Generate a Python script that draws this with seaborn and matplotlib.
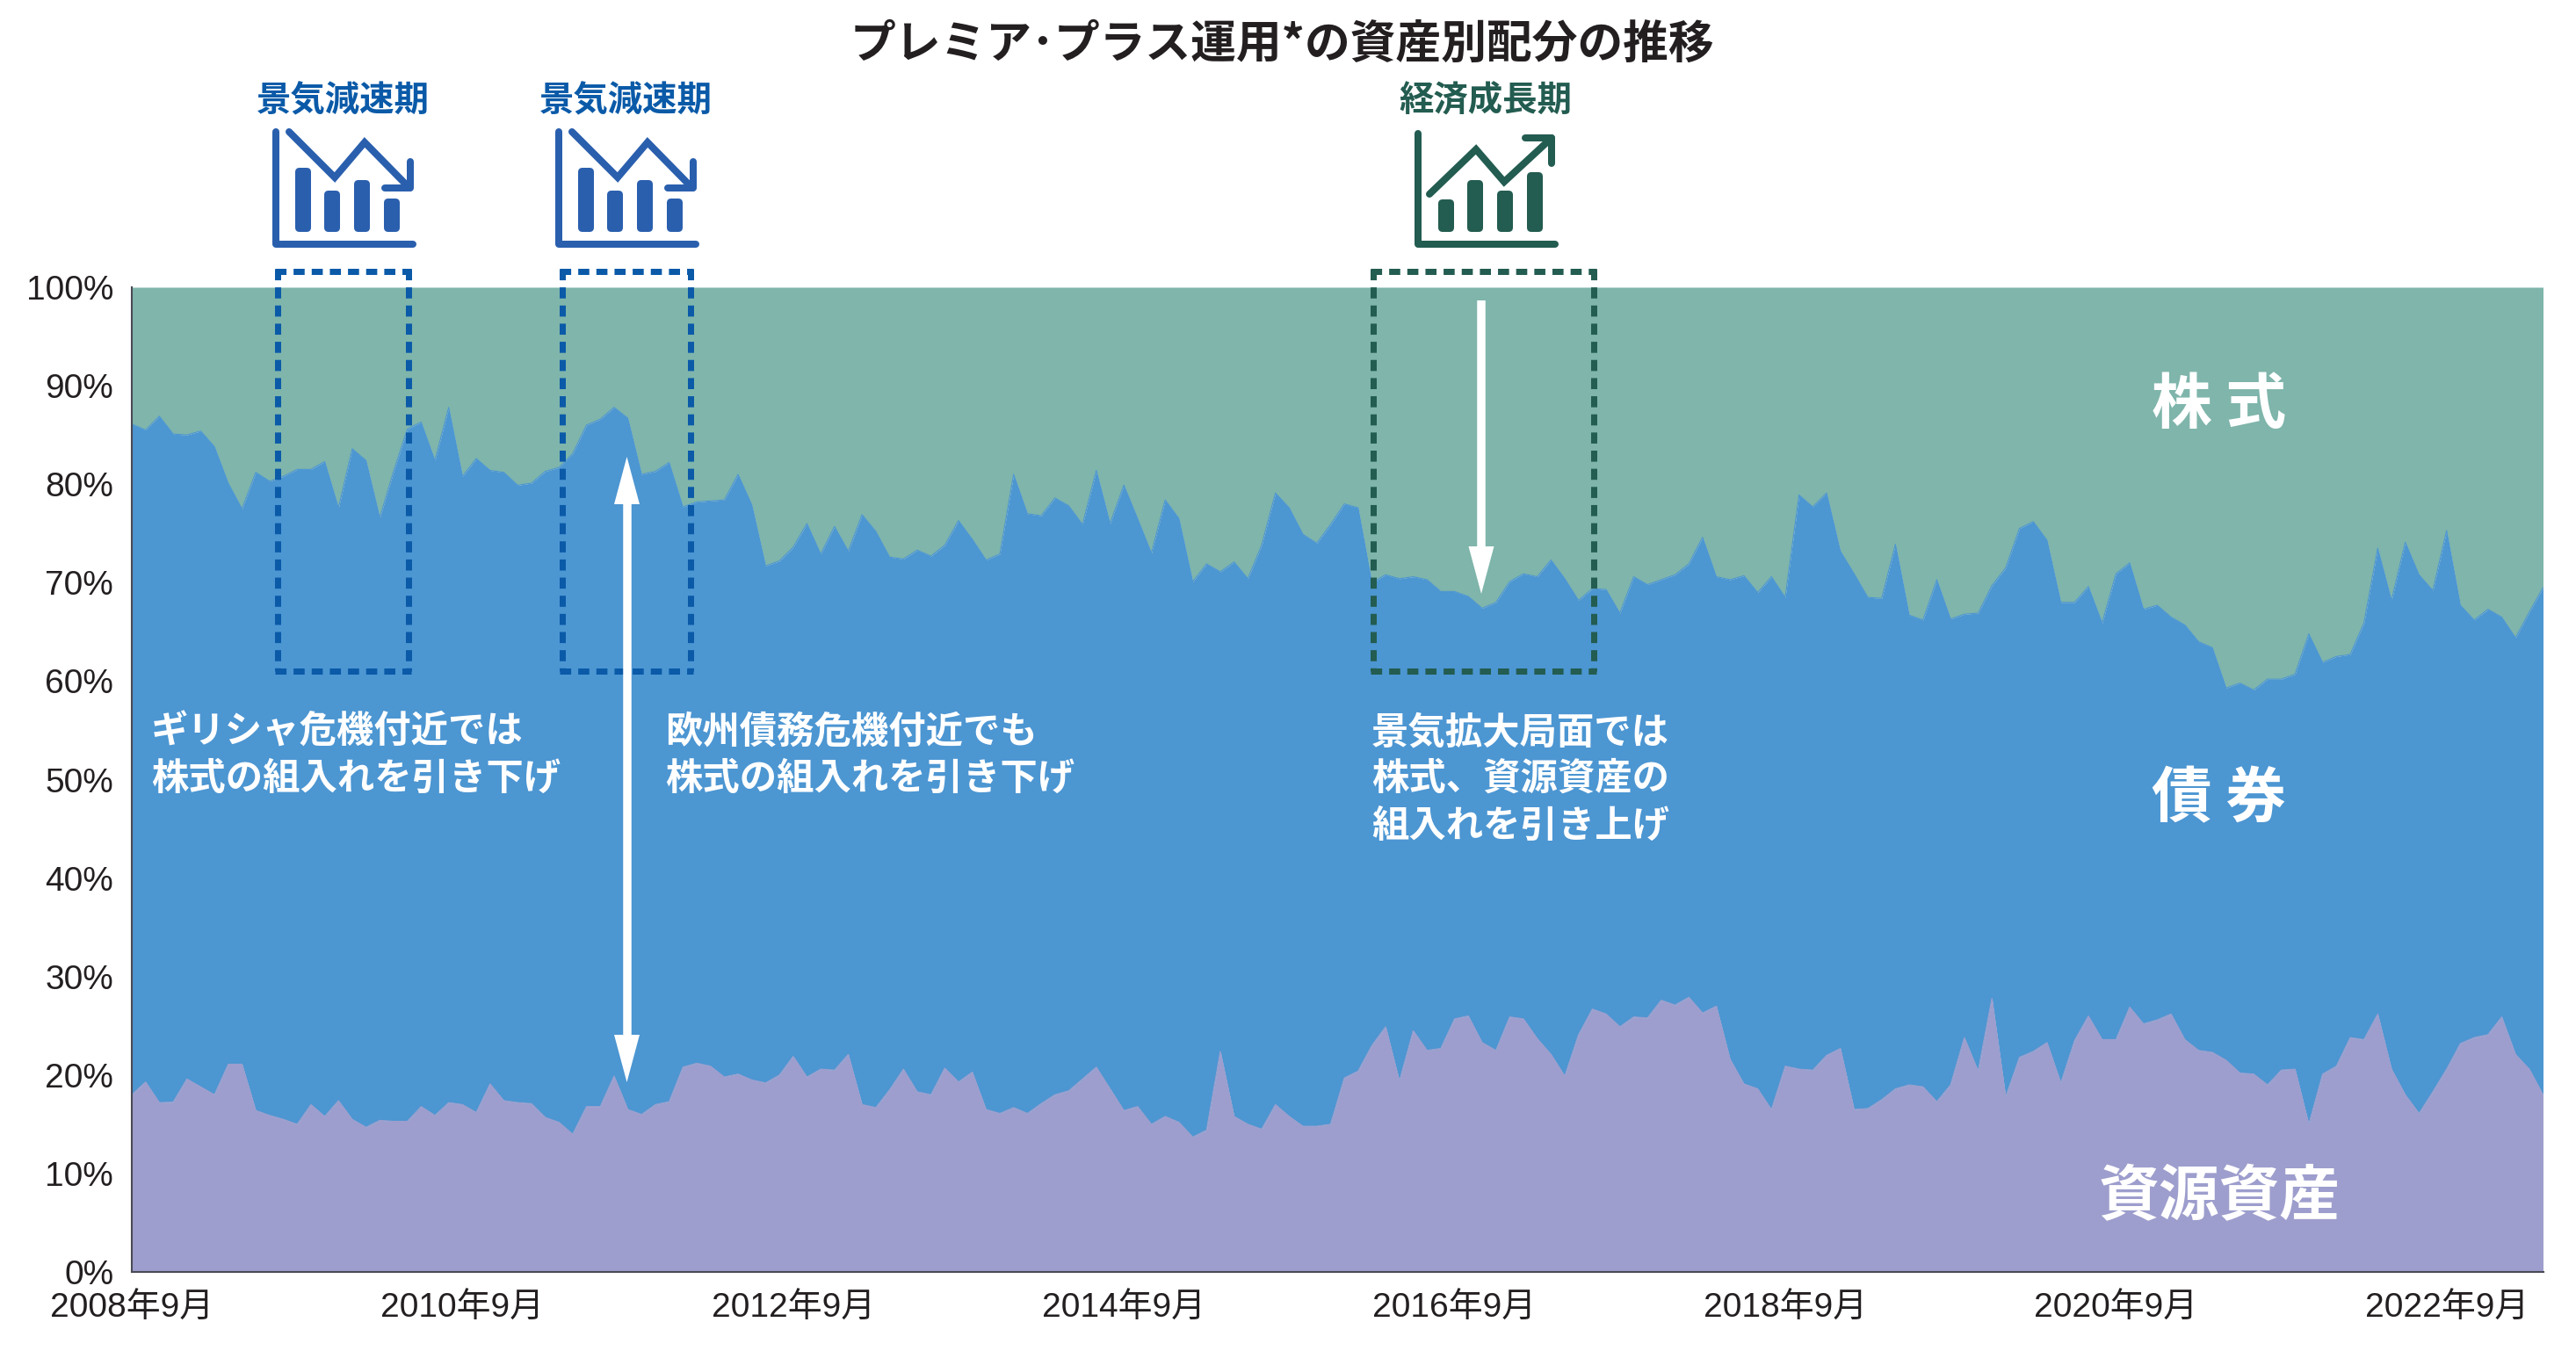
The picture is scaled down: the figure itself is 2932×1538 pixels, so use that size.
import numpy as np
import pandas as pd
import seaborn as sns
import matplotlib.pyplot as plt
from matplotlib.patches import FancyBboxPatch

# share of resources (%)
resource_pct = [
    18.0, 19.3, 17.2, 17.25, 19.6, 18.8, 18.0, 21.1, 21.1, 16.4, 15.9, 15.5,
    15.0, 17.0, 15.8, 17.4, 15.5, 14.7, 15.4, 15.3, 15.3, 16.8, 15.9, 17.2,
    17.0, 16.2, 19.1, 17.4, 17.2, 17.1, 15.7, 15.2, 14.0, 16.8, 16.8, 19.9,
    16.5, 16.0, 17.0, 17.3, 20.8, 21.2, 20.9, 19.8, 20.1, 19.5, 19.2, 20.0,
    21.9, 19.8, 20.6, 20.5, 22.1, 17.0, 16.7, 18.5, 20.6, 18.3, 18.0, 20.7,
    19.3, 20.3, 16.5, 16.1, 16.7, 16.1, 17.1, 18.0, 18.4, 19.6, 20.8, 18.6,
    16.4, 16.8, 15.0, 15.8, 15.2, 13.7, 14.4, 22.4, 15.8, 15.0, 14.5, 17.0,
    15.8, 14.8, 14.8, 15.0, 19.7, 20.4, 23.0, 24.9, 19.4, 24.5, 22.5, 22.7,
    25.7, 26.0, 23.3, 22.5, 25.9, 25.7, 23.7, 22.1, 19.9, 24.1, 26.7, 26.2,
    24.9, 25.9, 25.8, 27.6, 27.1, 27.9, 26.3, 27.0, 21.6, 19.1, 18.6, 16.5,
    20.9, 20.6, 20.5, 22.0, 22.7, 16.5, 16.6, 17.5, 18.6, 19.0, 18.8, 17.3,
    19.0, 23.8, 20.4, 27.8, 17.8, 21.8, 22.4, 23.3, 19.2, 23.5, 26.0, 23.6,
    23.6, 26.9, 25.2, 25.6, 26.2, 23.6, 22.5, 22.3, 21.5, 20.2, 20.1, 19.0,
    20.5, 20.6, 15.0, 20.1, 20.9, 23.8, 23.6, 26.2, 20.6, 18.0, 16.1, 18.3,
    20.6, 23.2, 23.8, 24.1, 25.9, 22.1, 20.6, 18.0,
]

# resources + bonds, i.e. the lower edge of the equity band (%)
resource_bond_pct = [
    86.1, 85.5, 86.9, 85.1, 85.0, 85.4, 83.8, 80.1, 77.5, 81.2, 80.3, 80.8,
    81.5, 81.5, 82.3, 77.6, 83.6, 82.4, 76.6, 81.3, 85.6, 86.3, 82.4, 87.8,
    80.8, 82.6, 81.4, 81.2, 79.9, 80.1, 81.3, 81.7, 83.1, 86.0, 86.6, 87.8,
    86.7, 81.0, 81.3, 82.2, 77.7, 78.2, 78.3, 78.4, 81.0, 77.9, 71.7, 72.2,
    73.6, 76.0, 72.9, 75.7, 73.2, 76.9, 75.2, 72.6, 72.4, 73.3, 72.7, 73.8,
    76.3, 74.4, 72.3, 72.9, 81.0, 77.0, 76.8, 78.6, 77.8, 75.9, 81.4, 76.0,
    79.9, 76.5, 73.0, 78.4, 76.5, 70.1, 71.9, 71.1, 72.1, 70.4, 73.8, 79.1,
    77.6, 74.9, 74.0, 75.9, 78.0, 77.6, 70.0, 70.8, 70.4, 70.6, 70.3, 69.1,
    69.1, 68.6, 67.4, 68.0, 70.1, 70.9, 70.6, 72.3, 70.4, 68.2, 69.4, 69.3,
    66.9, 70.6, 69.8, 70.3, 70.8, 71.9, 74.6, 70.6, 70.3, 70.7, 69.0, 70.6,
    68.5, 78.9, 77.7, 79.1, 73.2, 70.9, 68.5, 68.4, 73.9, 66.7, 66.2, 70.3,
    66.3, 66.8, 66.9, 69.7, 71.5, 75.5, 76.2, 74.3, 68.0, 68.0, 69.6, 65.9,
    70.9, 72.0, 67.3, 67.7, 66.5, 65.7, 64.0, 63.4, 59.3, 59.8, 59.1, 60.2,
    60.2, 60.7, 64.8, 61.9, 62.5, 62.7, 65.9, 73.5, 68.2, 74.1, 70.8, 69.2,
    75.3, 67.7, 66.2, 67.3, 66.5, 64.4, 67.0, 69.5,
]

x_ticks = [0, 24, 48, 72, 96, 120, 144, 168]
x_tick_labels = ['2008年9月', '2010年9月', '2012年9月', '2014年9月',
                 '2016年9月', '2018年9月', '2020年9月', '2022年9月']
y_ticks = [0, 10, 20, 30, 40, 50, 60, 70, 80, 90, 100]

W, H = 2932, 1538
LATIN_CJK = ['Liberation Sans', 'Noto Sans CJK JP']
JP = ['Noto Sans CJK JP', 'DejaVu Sans']

EQUITY = '#7fb5ab'
BOND = '#4c96d2'
RESOURCE = '#9d9ecd'
BLUE = '#0a5aa8'
ICON_BLUE = '#2a5fae'
GREEN = '#235c50'
AXIS = '#4a4a55'

sns.set_theme(style='white')
plt.rcParams['font.family'] = LATIN_CJK

df = pd.DataFrame({
    'month': np.arange(len(resource_pct)),
    'resource': resource_pct,
    'top': resource_bond_pct,
})
df['bond'] = df['top'] - df['resource']
df['equity'] = 100 - df['top']

fig = plt.figure(figsize=(W / 100, H / 100), dpi=100, facecolor='white')
ax = fig.add_axes([150 / W, 1 - 1448 / H, (2894.5 - 150) / W, (1448 - 327) / H])

ax.stackplot(df['month'], df['resource'], df['bond'], df['equity'],
             colors=[RESOURCE, BOND, EQUITY], linewidth=0)
# thin edges so the band boundaries stay crisp
sns.lineplot(data=df, x='month', y='resource', color=RESOURCE, linewidth=0.8, ax=ax)
sns.lineplot(data=df, x='month', y='top', color=BOND, linewidth=0.8, ax=ax)

ax.set_xlim(0, 175)
ax.set_ylim(0, 100)
ax.set_xlabel('')
ax.set_ylabel('')
ax.set_axisbelow(False)
ax.set_xticks(x_ticks)
ax.set_xticklabels(x_tick_labels)
ax.set_yticks(y_ticks)
ax.set_yticklabels([f'{v}%' for v in y_ticks])
ax.tick_params(axis='both', direction='in', length=8.6, width=1.1, color=AXIS,
               labelsize=28, labelcolor='#231f20')
ax.tick_params(axis='y', pad=15)
ax.tick_params(axis='x', pad=17)
sns.despine(ax=ax)
for side in ['left', 'bottom']:
    ax.spines[side].set_color(AXIS)
    ax.spines[side].set_linewidth(1.5)

# overlay in image pixels for the callouts
over = fig.add_axes([0, 0, 1, 1], zorder=5)
over.set_xlim(0, W)
over.set_ylim(H, 0)
over.axis('off')
over.patch.set_alpha(0)

PX = 72 / 100


def dashed_box(left, right, top, bottom, color):
    style = dict(color=color, linewidth=7 * PX, linestyle=(0, (1.8, 1.15)),
                 dash_capstyle='butt')
    over.plot([left, left], [top - 3, bottom], **style)
    over.plot([right, right], [top - 3, bottom], **style)
    over.plot([left - 3, right + 3], [top, top], **style)
    over.plot([left - 3, right + 3], [bottom, bottom], **style)


def icon(x_axis, y_top, x_end, y_base, bars, trend, head, color):
    over.plot([x_axis, x_axis, x_end], [y_top, y_base, y_base], color=color,
              linewidth=8 * PX, solid_capstyle='round', solid_joinstyle='round')
    for xc, top in bars:
        r = 5
        over.add_patch(FancyBboxPatch(
            (xc - 9 + r, top + r), 18 - 2 * r, 264 - top - 2 * r,
            boxstyle=f'round,pad={r}', facecolor=color, edgecolor='none'))
    over.plot(*zip(*trend), color=color, linewidth=8 * PX,
              solid_capstyle='round', solid_joinstyle='miter')
    over.plot(*zip(*head), color=color, linewidth=8 * PX,
              solid_capstyle='round', solid_joinstyle='round')


def white_arrow(x, y_from, y_to):
    # head drawn as a triangle, shaft as a plain line
    sign = 1 if y_to > y_from else -1
    base = y_to - sign * 54
    over.plot([x, x], [y_from, base], color='white', linewidth=9.5 * PX,
              solid_capstyle='butt')
    over.fill([x - 14.5, x + 14.5, x], [base, base, y_to], color='white',
              linewidth=0)


for dx in [0, 322]:
    dashed_box(316 + dx + (2 if dx else 0), 465 + dx - (1 if dx else 0), 309, 764, BLUE)
    icon(314 + dx, 150, 470 + dx, 278,
         [(345 + dx, 191), (378 + dx, 217), (412 + dx, 205), (446 + dx, 226)],
         [(329 + dx, 150), (381 + dx, 202), (415 + dx, 162), (466 + dx, 214)],
         [(467 + dx, 184), (467 + dx, 214), (438 + dx, 214)],
         ICON_BLUE)
    over.text(390 + dx, 115, '景気減速期', color=BLUE, fontsize=28.4, fontweight='bold',
              family=JP, ha='center', va='center')

dashed_box(1563, 1814, 309, 764, GREEN)
icon(1614, 152, 1770, 278,
     [(1646, 227), (1679, 205), (1713, 217), (1747, 196)],
     [(1627, 221), (1680, 170), (1712, 207), (1766, 157)],
     [(1736, 157), (1766, 157), (1766, 186)],
     GREEN)
over.text(1691, 115, '経済成長期', color=GREEN, fontsize=28.4, fontweight='bold',
          family=JP, ha='center', va='center')

white_arrow(1686, 342, 676)
white_arrow(713.5, 900, 520)
white_arrow(713.5, 900, 1232)

over.text(1459, 50, 'プレミア･プラス運用*の資産別配分の推移', color='#231f20', fontsize=37.3,
          fontweight='bold', family=JP, ha='center', va='center')

note_style = dict(color='white', fontsize=30.5, fontweight='bold', family=JP,
                  ha='left', va='center')
over.text(172, 834, 'ギリシャ危機付近では', **note_style)
over.text(172, 887, '株式の組入れを引き下げ', **note_style)
over.text(757, 834, '欧州債務危機付近でも', **note_style)
over.text(757, 887, '株式の組入れを引き下げ', **note_style)
over.text(1561, 834, '景気拡大局面では', **note_style)
over.text(1561, 887, '株式、資源資産の', **note_style)
over.text(1561, 941, '組入れを引き上げ', **note_style)

band_style = dict(color='white', fontsize=49.5, fontweight='bold', family=JP,
                  ha='center', va='center')
over.text(2526, 462, '株 式', **band_style)
over.text(2526, 910, '債 券', **band_style)
over.text(2526, 1363, '資源資産', **band_style)

fig.savefig('out.png', dpi=100)
